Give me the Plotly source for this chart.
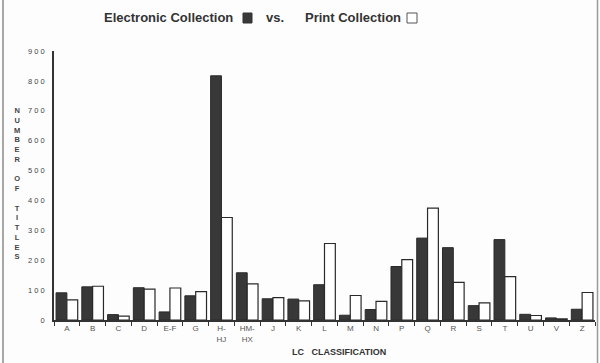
import plotly.graph_objects as go

categories = ["A", "B", "C", "D", "E-F", "G", "H-<br>HJ", "HM-<br>HX", "J", "K", "L",
              "M", "N", "P", "Q", "R", "S", "T", "U", "V", "Z"]
electronic = [91, 111, 18, 108, 27, 81, 817, 158, 71, 70, 118,
              16, 35, 179, 274, 242, 48, 269, 19, 7, 36]
print_coll = [67, 113, 13, 103, 107, 95, 343, 121, 75, 64, 256,
              82, 62, 202, 374, 126, 57, 145, 15, 4, 92]
ytick_vals = [0, 100, 200, 300, 400, 500, 600, 700, 800, 900]
ytick_text = ["0", "1 0 0", "2 0 0", "3 0 0", "4 0 0", "5 0 0", "6 0 0", "7 0 0", "8 0 0", "9 0 0"]

W, H = 600, 363
L, R, T, B = 54, 5, 51, 43
PW, PH = W - L - R, H - T - B


def px(x):
    return (x - L) / PW


def py(y):
    return (H - B - y) / PH


fig = go.Figure()
fig.add_trace(go.Bar(x=categories, y=electronic, name="Electronic Collection",
                     marker=dict(color="#383838", line=dict(color="#2a2a2a", width=1))))
fig.add_trace(go.Bar(x=categories, y=print_coll, name="Print Collection",
                     marker=dict(color="#ffffff", line=dict(color="#2a2a2a", width=1.2))))

font_main = "Liberation Sans, Arial, sans-serif"
ann = []
# title pieces
for txt, x0 in [("Electronic Collection", 102), ("vs.", 264), ("Print Collection", 303)]:
    ann.append(dict(text="<b>" + txt + "</b>", x=px(x0), y=py(18), xref="paper", yref="paper",
                    xanchor="left", yanchor="middle", showarrow=False,
                    font=dict(family=font_main, size=13, color="#333")))
# y axis title, stacked letters
ytitle = "<br>".join(list("NUMBER") + [" "] + list("OF") + [" "] + list("TITLES"))
ann.append(dict(text="<b>" + ytitle + "</b>", x=px(17), y=py(183), xref="paper", yref="paper",
                xanchor="center", yanchor="middle", showarrow=False,
                font=dict(family=font_main, size=7.5, color="#444")))
# x axis title
ann.append(dict(text="<b>LC\u00a0\u00a0\u00a0CLASSIFICATION</b>", x=px(339), y=py(352), xref="paper", yref="paper",
                xanchor="center", yanchor="middle", showarrow=False,
                font=dict(family=font_main, size=9, color="#333")))

shapes = [
    # legend squares in title
    dict(type="rect", xref="paper", yref="paper", x0=px(243), x1=px(252), y0=py(23), y1=py(13),
         fillcolor="#383838", line=dict(color="#333", width=1)),
    dict(type="rect", xref="paper", yref="paper", x0=px(407), x1=px(417), y0=py(23), y1=py(13),
         fillcolor="#fff", line=dict(color="#555", width=1)),
    # page border lines
    dict(type="line", xref="paper", yref="paper", x0=px(3), x1=px(3), y0=py(0), y1=py(363),
         line=dict(color="#8a8a8a", width=1.5)),
    dict(type="line", xref="paper", yref="paper", x0=px(597.5), x1=px(597.5), y0=py(0), y1=py(363),
         line=dict(color="#9a9a9a", width=1.5)),
]

fig.update_layout(
    template="none",
    width=W, height=H,
    margin=dict(l=L, r=R, t=T, b=B, autoexpand=False),
    paper_bgcolor="#fdfdfd", plot_bgcolor="#fdfdfd",
    barmode="group", bargap=0.16, bargroupgap=0,
    showlegend=False,
    annotations=ann, shapes=shapes,
    font=dict(family=font_main, color="#555"),
)
fig.update_xaxes(type="category", showline=True, linecolor="#333", linewidth=1.5,
                 ticks="outside", tickson="boundaries", ticklen=4, tickcolor="#333", tickwidth=1,
                 tickfont=dict(size=8, color="#555555"), showgrid=False, zeroline=False,
                 automargin=False)
fig.update_yaxes(range=[0, 900], tickvals=ytick_vals, ticktext=ytick_text,
                 showline=True, linecolor="#333", linewidth=1.5, ticks="",
                 ticklabelstandoff=6, tickfont=dict(size=7.5, color="#444444"),
                 showgrid=False, zeroline=False, automargin=False)

fig.write_html("out.html", config={"displayModeBar": False},
               post_script="document.body.style.margin='0';document.body.style.overflow='hidden';")
